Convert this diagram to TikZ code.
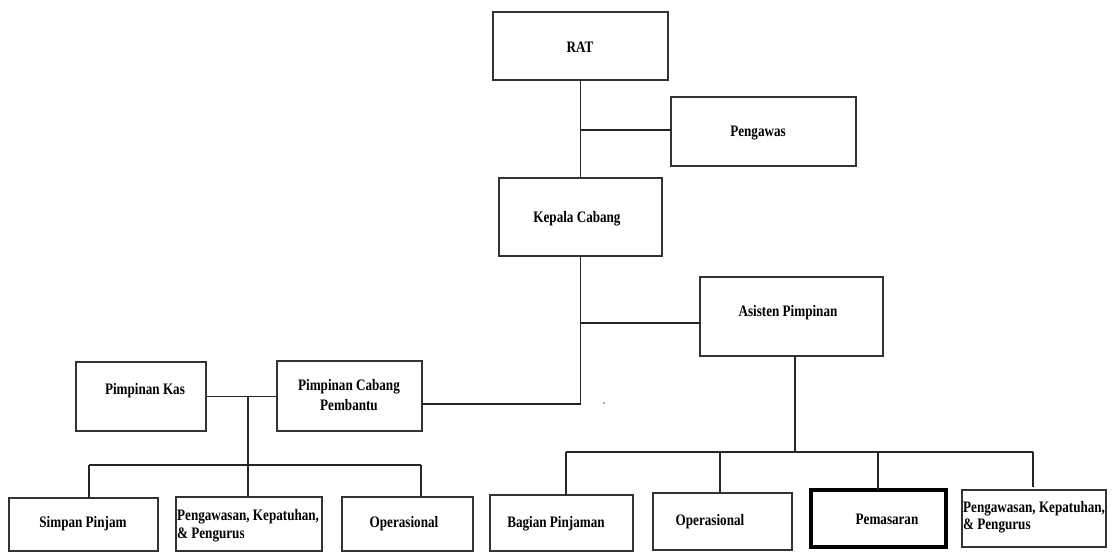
\documentclass[tikz,border=0pt]{standalone}
\usepackage{fontspec}
\setmainfont{Liberation Serif}[FakeStretch=0.82]
\begin{document}
\begin{tikzpicture}[x=1pt,y=-1pt,
  box/.style={draw=black!80,line width=1.2pt,inner sep=0pt,outer sep=0pt},
  thickbox/.style={draw=black,line width=4pt,inner sep=0pt,outer sep=0pt},
  lbl/.style={inner sep=0pt,anchor=base,font=\fontsize{16}{18}\selectfont\bfseries},
  lbll/.style={lbl,anchor=base west},
  conn/.style={draw=black!85,line width=1.1pt}]
\useasboundingbox (0,0) rectangle (1120,552);
% boxes
\node[box,minimum width=175pt,minimum height=68pt] (rat) at (580.5,46) {};
\node[box,minimum width=185pt,minimum height=69pt] (peng) at (763.5,131.5) {};
\node[box,minimum width=163pt,minimum height=78pt] (kc) at (580.5,217) {};
\node[box,minimum width=183pt,minimum height=79pt] (asp) at (791.5,316.5) {};
\node[box,minimum width=130pt,minimum height=69pt] (pk) at (141,396.5) {};
\node[box,minimum width=145pt,minimum height=70pt] (pcp) at (349.5,396) {};
\node[box,minimum width=149pt,minimum height=53pt] (sp) at (83.5,524.5) {};
\node[box,minimum width=146pt,minimum height=54pt] (pkpL) at (249,524) {};
\node[box,minimum width=131pt,minimum height=54pt] (opL) at (407.5,524) {};
\node[box,minimum width=143pt,minimum height=56pt] (bp) at (561.5,523) {};
\node[box,minimum width=139pt,minimum height=57pt] (opR) at (722.5,521.5) {};
\node[thickbox,minimum width=135pt,minimum height=57pt] (pem) at (878.5,518.5) {};
\node[box,minimum width=144pt,minimum height=57pt] (pkpR) at (1034,518.5) {};
% labels
\node[lbl] (trat) at (580,52) {RAT};
\node[lbl] (tpeng) at (758,136) {Pengawas};
\node[lbl] (tkc) at (577,222) {Kepala Cabang};
\node[lbl] (tasp) at (788,316) {Asisten Pimpinan};
\node[lbl] (tpk) at (145,394) {Pimpinan Kas};
\node[lbl] (tpcp1) at (349,390) {Pimpinan Cabang};
\node[lbl] (tpcp2) at (349,410) {Pembantu};
\node[lbl] (tsp) at (83,527) {Simpan Pinjam};
\node[lbll] (tpkpL1) at (177,520) {Pengawasan, Kepatuhan,};
\node[lbll] (tpkpL2) at (177,538) {\& Pengurus};
\node[lbl] (topL) at (404,527) {Operasional};
\node[lbl] (tbp) at (556,527) {Bagian Pinjaman};
\node[lbl] (topR) at (710,525) {Operasional};
\node[lbl] (tpem) at (887,524) {Pemasaran};
\node[lbll] (tpkpR1) at (963,512) {Pengawasan, Kepatuhan,};
\node[lbll] (tpkpR2) at (963,529) {\& Pengurus};
% junction coordinates
\coordinate (j1) at (580.5,130);
\coordinate (j2) at (580.5,323);
\coordinate (j3) at (580.5,404);
\coordinate (a1) at (795,452);
\coordinate (hL) at (566,452);
\coordinate (hR) at (1033,452);
\coordinate (hB) at (878,452);
\coordinate (hC) at (720,452);
\coordinate (k1) at (248,396.5);
\coordinate (l1) at (89,465);
\coordinate (l2) at (421,465);
\coordinate (l3) at (248,465);
% connectors
\draw[conn] (rat.south) -- (kc.north);
\draw[conn] (j1) -- (j1 -| peng.west);
\draw[conn] (kc.south) -- (j3);
\draw[conn] (j2) -- (j2 -| asp.west);
\draw[conn] (j3) -- (j3 -| pcp.east);
\draw[conn] (a1 |- asp.south) -- (a1);
\draw[conn] (hL) -- (hR);
\draw[conn] (hL) -- (hL |- bp.north);
\draw[conn] (hC) -- (hC |- opR.north);
\draw[conn] (hB) -- (hB |- pem.north);
\draw[conn] (hR) -- ([yshift=3pt]hR |- pkpR.north);
\draw[conn] (pk.east) -- (pk.east -| pcp.west);
\draw[conn] (k1) -- (k1 |- pkpL.north);
\draw[conn] (l1) -- (l2);
\draw[conn] (l1) -- (l1 |- sp.north);
\draw[conn] (l2) -- (l2 |- opL.north);
\fill[black!70] (604,403) circle (0.8pt);
\end{tikzpicture}
\end{document}
